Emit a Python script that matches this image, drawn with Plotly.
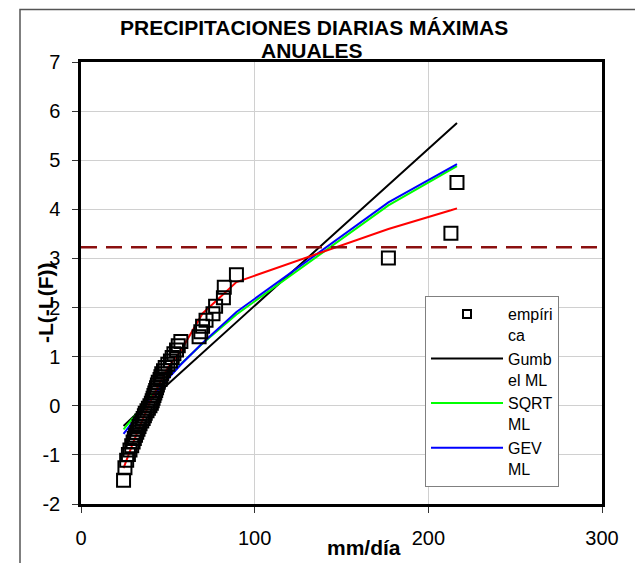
import plotly.graph_objects as go

# ---- data ----
emp_x = [24.5, 25.3, 26.3, 27.3, 28.2, 29.2, 30.0, 30.7, 31.4, 32.1,
         32.8, 33.4, 34.0, 35.0, 35.8, 36.5, 37.0, 38.0, 38.8, 39.7,
         40.5, 41.0, 41.5, 42.0, 42.5, 43.0, 43.5, 44.0, 44.5, 45.5,
         46.0, 46.5, 47.5, 48.5, 50.0, 51.5, 52.5, 53.5, 55.0, 56.0,
         57.5, 68.0, 69.0, 70.0, 72.0, 76.0, 77.5, 82.0, 82.5, 89.5,
         177.0, 213.0, 216.5]
emp_y = [-1.516, -1.261, -1.109, -0.994, -0.898, -0.814, -0.738, -0.668, -0.602, -0.539,
         -0.480, -0.422, -0.366, -0.311, -0.258, -0.205, -0.153, -0.102, -0.050, 0.001,
         0.052, 0.104, 0.155, 0.207, 0.260, 0.313, 0.367, 0.421, 0.477, 0.534,
         0.593, 0.653, 0.714, 0.778, 0.845, 0.913, 0.985, 1.059, 1.138, 1.221,
         1.310, 1.405, 1.507, 1.618, 1.739, 1.874, 2.027, 2.202, 2.411, 2.668,
         3.008, 3.513, 4.547]

fit_x = [24.5, 30, 40, 50, 57.5, 70, 89.5, 177, 213, 216.5]
gumbel_y = [-0.41, -0.22, 0.11, 0.44, 0.68, 1.08, 1.71, 4.50, 5.65, 5.76]
sqrt_y = [-0.48, -0.25, 0.18, 0.57, 0.85, 1.27, 1.86, 4.08, 4.80, 4.88]
gev_y = [-0.57, -0.32, 0.14, 0.55, 0.84, 1.28, 1.91, 4.14, 4.85, 4.92]
red_y = [-1.27, -0.75, 0.10, 0.78, 1.12, 1.88, 2.52, 3.60, 3.98, 4.02]
threshold = 3.23

x_ticks = [0, 100, 200, 300]
y_ticks = [-2, -1, 0, 1, 2, 3, 4, 5, 6, 7]

FONT = "Liberation Sans, Arial, sans-serif"

# page geometry: the page body adds an 8px margin around the figure
OFF = 8
W, H = 643 - OFF, 563 - OFF
PLOT_L, PLOT_R, PLOT_T, PLOT_B = 81, 602, 62, 504   # plot area in page pixels
PW, PH = PLOT_R - PLOT_L, PLOT_B - PLOT_T
L, T = PLOT_L - OFF, PLOT_T - OFF
R, B = W - L - PW, H - T - PH


def px_x(p):
    return (p - PLOT_L) / PW


def px_y(p):
    return (PLOT_B - p) / PH


fig = go.Figure()

fig.add_trace(go.Scatter(x=fit_x, y=gumbel_y, mode="lines", name="Gumb<br>el ML",
                         line=dict(color="#000000", width=2), legendrank=2))
fig.add_trace(go.Scatter(x=fit_x, y=sqrt_y, mode="lines", name="SQRT<br>ML",
                         line=dict(color="#00FF00", width=2), legendrank=3))
fig.add_trace(go.Scatter(x=fit_x, y=gev_y, mode="lines", name="GEV<br>ML",
                         line=dict(color="#0000FF", width=2), legendrank=4))
fig.add_trace(go.Scatter(x=fit_x, y=red_y, mode="lines", name="ajuste",
                         line=dict(color="#FF0000", width=2), showlegend=False))
fig.add_trace(go.Scatter(x=emp_x, y=emp_y, mode="markers", name="empíri<br>ca",
                         marker=dict(symbol="square-open", size=13, color="#000000",
                                     line=dict(width=2, color="#000000")),
                         showlegend=False))
# legend-only entry for the empirical points (small symbol like the reference)
fig.add_trace(go.Scatter(x=[None], y=[None], mode="markers", name="empíri<br>ca",
                         marker=dict(symbol="square-open", size=8, color="#000000",
                                     line=dict(width=2, color="#000000")),
                         legendrank=1))

fig.add_hline(y=threshold, line=dict(color="#8B1010", width=2.5, dash="16px,9px"))

# outer chart frame
fig.add_shape(type="rect", xref="paper", yref="paper",
              x0=px_x(20), x1=px_x(700), y0=px_y(620), y1=px_y(9.5),
              line=dict(color="#555555", width=1.5), fillcolor="rgba(0,0,0,0)", layer="below")

# titles
fig.add_annotation(text="<b>PRECIPITACIONES DIARIAS MÁXIMAS</b>", xref="paper", yref="paper",
                   x=px_x(314), y=px_y(27), xanchor="center", yanchor="middle",
                   showarrow=False, font=dict(family=FONT, size=21, color="#000000"))
fig.add_annotation(text="<b>ANUALES</b>", xref="paper", yref="paper",
                   x=px_x(312), y=px_y(50), xanchor="center", yanchor="middle",
                   showarrow=False, font=dict(family=FONT, size=21, color="#000000"))
fig.add_annotation(text="<b>-L(-L(F))</b>", xref="paper", yref="paper",
                   x=px_x(45), y=px_y(303), xanchor="center", yanchor="middle",
                   textangle=-90, showarrow=False, font=dict(family=FONT, size=21, color="#000000"))
fig.add_annotation(text="<b>mm/día</b>", xref="paper", yref="paper",
                   x=px_x(364), y=px_y(547), xanchor="center", yanchor="middle",
                   showarrow=False, font=dict(family=FONT, size=21, color="#000000"))

fig.update_layout(
    width=W, height=H,
    margin=dict(l=L, r=R, t=T, b=B, autoexpand=False),
    paper_bgcolor="white", plot_bgcolor="white",
    font=dict(family=FONT, size=20, color="#000000"),
    showlegend=True,
    legend=dict(x=px_x(425), y=px_y(296), xanchor="left", yanchor="top",
                bgcolor="white", bordercolor="#808080", borderwidth=1,
                font=dict(family=FONT, size=16, color="#000000"),
                itemwidth=72, valign="top", tracegroupgap=0),
)
fig.update_xaxes(range=[0, 300], tickvals=x_ticks, ticktext=[str(v) for v in x_ticks],
                 showgrid=True, gridcolor="#D0D0D0", gridwidth=1,
                 showline=True, linecolor="#000000", linewidth=2.5, mirror=True,
                 ticks="outside", ticklen=6, tickcolor="#333333", tickwidth=1,
                 ticklabelstandoff=8, zeroline=False,
                 tickfont=dict(family=FONT, size=20, color="#000000"))
fig.update_yaxes(range=[-2, 7], tickvals=y_ticks, ticktext=[str(v) for v in y_ticks],
                 showgrid=True, gridcolor="#D0D0D0", gridwidth=1,
                 showline=True, linecolor="#000000", linewidth=2.5, mirror=True,
                 ticks="outside", ticklen=6, tickcolor="#333333", tickwidth=1,
                 ticklabelstandoff=8, zeroline=False,
                 tickfont=dict(family=FONT, size=20, color="#000000"))

fig.write_html("out.html")
